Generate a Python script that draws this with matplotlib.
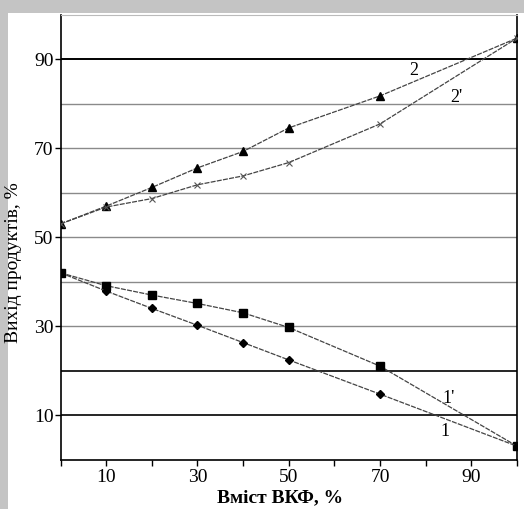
import matplotlib
matplotlib.use("Agg")
import matplotlib.pyplot as plt
from matplotlib.patches import Rectangle

# data
x = [0, 10, 20, 30, 40, 50, 70, 100]
curve_2 = [53.0, 57.0, 61.2, 65.6, 69.3, 74.6, 81.8, 94.8]
curve_2p = [53.0, 56.8, 58.7, 61.8, 63.8, 66.8, 75.5, 94.8]
curve_1p = [42.0, 39.1, 37.0, 35.1, 33.0, 29.7, 21.0, 3.0]
curve_1 = [42.0, 37.9, 34.0, 30.2, 26.3, 22.4, 14.7, 3.0]

xticks_major = [10, 30, 50, 70, 90]
yticks_major = [10, 30, 50, 70, 90]

plt.rcParams['font.family'] = ['Liberation Serif', 'DejaVu Serif']

fig = plt.figure(figsize=(5.24, 5.09), dpi=100)
fig.patch.set_facecolor('#c4c4c4')
# white sheet behind the chart
sheet = Rectangle((8 / 524, 0), 1, (509 - 13) / 509,
                  transform=fig.transFigure, facecolor='white',
                  edgecolor='none', zorder=-10)
fig.patches.append(sheet)

ax = fig.add_axes([60.5 / 524, 49.5 / 509, 456.5 / 524, 444.5 / 509])
ax.set_facecolor('white')
ax.set_zorder(1)

# horizontal grid lines, some print darker than others in the original
for yv, col, lw in [(90, 'black', 1.4), (80, '#8a8a8a', 1.0), (70, '#8a8a8a', 1.0),
                    (60, '#8a8a8a', 1.0), (50, '#8a8a8a', 1.0), (40, '#8a8a8a', 1.0),
                    (30, '#8a8a8a', 1.0), (20, 'black', 1.2), (10, 'black', 1.2)]:
    ax.axhline(yv, color=col, linewidth=lw, zorder=1)

lc = '#444444'
ax.plot(x, curve_2, color=lc, linewidth=0.9, linestyle=(0, (4, 1)),
        marker='^', markersize=6, markerfacecolor='black', markeredgecolor='black', zorder=3)
ax.plot(x, curve_2p, color=lc, linewidth=0.9, linestyle=(0, (4, 1)),
        marker='x', markersize=5, markeredgecolor='#555555', markeredgewidth=0.8, zorder=3)
ax.plot(x, curve_1p, color=lc, linewidth=0.9, linestyle=(0, (4, 1)),
        marker='s', markersize=6, markerfacecolor='black', markeredgecolor='black', zorder=3)
ax.plot(x, curve_1, color=lc, linewidth=0.9, linestyle=(0, (4, 1)),
        marker='D', markersize=4, markerfacecolor='black', markeredgecolor='black', zorder=3)

ax.text(77.3, 87.5, '2', fontsize=13, ha='center', va='center')
ax.text(86.8, 81.5, "2'", fontsize=13, ha='center', va='center')
ax.text(85.0, 13.8, "1'", fontsize=13, ha='center', va='center')
ax.text(84.3, 6.2, '1', fontsize=13, ha='center', va='center')

ax.set_xlim(0, 100)
ax.set_ylim(0, 100)
ax.set_xticks(range(0, 101, 10), minor=True)
ax.set_xticks(xticks_major)
ax.set_yticks(yticks_major)
ax.tick_params(axis='both', which='both', direction='out', length=4, width=1,
               labelsize=14, colors='black')
ax.tick_params(axis='x', pad=3)
ax.tick_params(axis='y', pad=1)

for side in ['left', 'bottom', 'right']:
    ax.spines[side].set_color('black')
    ax.spines[side].set_linewidth(1.2)
ax.spines['top'].set_color('#bbbbbb')
ax.spines['top'].set_linewidth(0.8)

ax.set_xlabel('Вміст ВКФ, %', fontsize=14, fontweight='bold')
ax.xaxis.set_label_coords(0.48, -0.066)
ax.set_ylabel('Вихід продуктів, %', fontsize=14)
ax.yaxis.set_label_coords(-0.084, 0.444)

fig.savefig('out.png', dpi=100, facecolor=fig.get_facecolor())
